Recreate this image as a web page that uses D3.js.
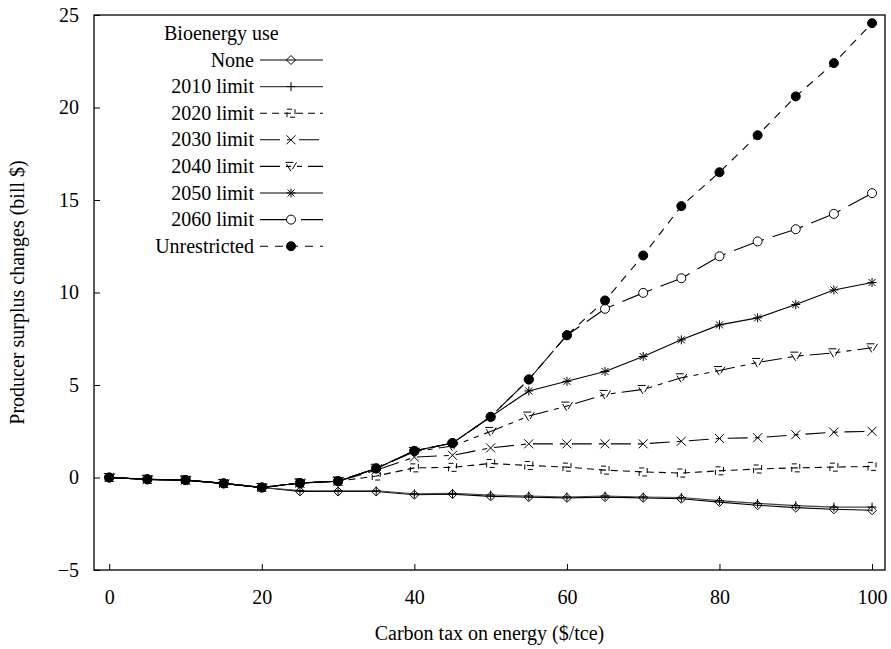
<!DOCTYPE html>
<html>
<head>
<meta charset="utf-8">
<script src="https://cdn.jsdelivr.net/npm/d3@7"></script>
<style>
  body { margin: 0; background: #fff; }
</style>
</head>
<body>
<script>
'use strict';

// carbon tax values ($/tce)
const taxes = [0, 5, 10, 15, 20, 25, 30, 35, 40, 45, 50, 55, 60, 65, 70, 75, 80, 85, 90, 95, 100]

// producer surplus changes (bill $) per bioenergy scenario
const none    = [0, -0.1, -0.14, -0.32, -0.54, -0.75, -0.76, -0.76, -0.93, -0.9, -1.02, -1.06, -1.1, -1.06, -1.1, -1.15, -1.33, -1.5, -1.63, -1.72, -1.77]
const lim2010 = [0, -0.1, -0.14, -0.32, -0.54, -0.7, -0.72, -0.72, -0.88, -0.86, -0.95, -1.0, -1.05, -1.0, -1.05, -1.08, -1.25, -1.4, -1.52, -1.6, -1.6]
const lim2020 = [0, -0.1, -0.14, -0.32, -0.54, -0.3, -0.2, 0.08, 0.52, 0.55, 0.76, 0.65, 0.56, 0.4, 0.3, 0.24, 0.36, 0.46, 0.52, 0.56, 0.6]
const lim2030 = [0, -0.1, -0.14, -0.32, -0.54, -0.3, -0.2, 0.4, 1.1, 1.2, 1.6, 1.82, 1.82, 1.82, 1.82, 1.96, 2.11, 2.15, 2.31, 2.45, 2.5]
const lim2040 = [0, -0.1, -0.14, -0.32, -0.54, -0.3, -0.2, 0.5, 1.4, 1.7, 2.49, 3.32, 3.86, 4.49, 4.76, 5.39, 5.78, 6.22, 6.56, 6.74, 7.01]
const lim2050 = [0, -0.1, -0.14, -0.32, -0.54, -0.3, -0.2, 0.49, 1.44, 1.86, 3.28, 4.68, 5.2, 5.73, 6.54, 7.44, 8.25, 8.63, 9.35, 10.14, 10.54]
const lim2060 = [0, -0.1, -0.14, -0.32, -0.54, -0.3, -0.2, 0.49, 1.44, 1.86, 3.28, 5.3, 7.69, 9.12, 9.98, 10.77, 11.96, 12.76, 13.42, 14.25, 15.37]
const unrestricted = [0, -0.1, -0.14, -0.32, -0.54, -0.3, -0.2, 0.49, 1.44, 1.86, 3.28, 5.3, 7.69, 9.57, 12.0, 14.67, 16.5, 18.5, 20.6, 22.4, 24.56]

const xTicks = [0, 20, 40, 60, 80, 100]
const yTicks = [-5, 0, 5, 10, 15, 20, 25]

const series = [
  { name: 'None', values: none, dash: null, mark: 'diamond' },
  { name: '2010 limit', values: lim2010, dash: null, mark: 'plus' },
  { name: '2020 limit', values: lim2020, dash: '7,5', mark: 'square' },
  { name: '2030 limit', values: lim2030, dash: '20,7,5,7', mark: 'cross' },
  { name: '2040 limit', values: lim2040, dash: '20,6,5,6,5,6', mark: 'triangle' },
  { name: '2050 limit', values: lim2050, dash: null, mark: 'star' },
  { name: '2060 limit', values: lim2060, dash: '32,9', mark: 'circle' },
  { name: 'Unrestricted', values: unrestricted, dash: '8,7', mark: 'dot' }
]

const m = { width: 891, height: 649, left: 94, right: 885, top: 15, bottom: 570 }
const font = '"Liberation Serif", "DejaVu Serif", serif'
const fontSize = '20px'

const svg = d3.select('body').append('svg')
  .attr('width', m.width)
  .attr('height', m.height)
  .style('font-family', font)

const x = d3.scaleLinear().domain([-2, 101.7]).range([m.left, m.right])
const y = d3.scaleLinear().domain([-5, 25]).range([m.bottom, m.top])

// frame
svg.append('rect')
  .attr('x', m.left).attr('y', m.top)
  .attr('width', m.right - m.left).attr('height', m.bottom - m.top)
  .attr('fill', 'none').attr('stroke', '#000').attr('stroke-width', 1.3)

// x axis: ticks point into the plot
const xAxis = svg.append('g')
  .attr('transform', 'translate(0,' + m.bottom + ')')
  .call(d3.axisBottom(x).tickValues(xTicks).tickSizeInner(-6).tickSizeOuter(0).tickPadding(20))
xAxis.select('.domain').remove()
xAxis.selectAll('text').style('font-size', fontSize).style('font-family', font).attr('fill', '#000')

const yAxis = svg.append('g')
  .attr('transform', 'translate(' + m.left + ',0)')
  .call(d3.axisLeft(y).tickValues(yTicks).tickSizeInner(-6).tickSizeOuter(0).tickPadding(15))
yAxis.select('.domain').remove()
yAxis.selectAll('text').style('font-size', fontSize).style('font-family', font).attr('fill', '#000')

// axis labels
svg.append('text')
  .attr('x', (m.left + m.right) / 2)
  .attr('y', 640)
  .attr('text-anchor', 'middle')
  .style('font-size', fontSize)
  .style('font-family', font)
  .text('Carbon tax on energy ($/tce)')

svg.append('text')
  .attr('transform', 'translate(24,' + (m.top + m.bottom) / 2 + ')rotate(-90)')
  .attr('text-anchor', 'middle')
  .style('font-size', fontSize)
  .style('font-family', font)
  .text('Producer surplus changes (bill $)')

// marker shapes, gnuplot style
function drawMark(g, type, cx, cy) {
  const s = 4.5
  if (type === 'diamond') {
    g.append('path').attr('d', `M${cx},${cy - s}L${cx + s},${cy}L${cx},${cy + s}L${cx - s},${cy}Z`)
      .attr('fill', 'none').attr('stroke', '#000')
  } else if (type === 'plus') {
    g.append('path').attr('d', `M${cx - s},${cy}H${cx + s}M${cx},${cy - s}V${cy + s}`)
      .attr('stroke', '#000')
  } else if (type === 'square') {
    g.append('rect').attr('x', cx - 4).attr('y', cy - 4).attr('width', 8).attr('height', 8)
      .attr('fill', 'none').attr('stroke', '#000').attr('stroke-dasharray', '5,3')
  } else if (type === 'cross') {
    g.append('path').attr('d', `M${cx - s},${cy - s}L${cx + s},${cy + s}M${cx - s},${cy + s}L${cx + s},${cy - s}`)
      .attr('stroke', '#000')
  } else if (type === 'triangle') {
    g.append('path').attr('d', `M${cx - 5.5},${cy - 4}H${cx + 5.5}L${cx},${cy + 5}Z`)
      .attr('fill', 'none').attr('stroke', '#000').attr('stroke-dasharray', '8,3')
  } else if (type === 'star') {
    g.append('path').attr('d', `M${cx - s},${cy}H${cx + s}M${cx},${cy - s}V${cy + s}` +
        `M${cx - 3.5},${cy - 3.5}L${cx + 3.5},${cy + 3.5}M${cx - 3.5},${cy + 3.5}L${cx + 3.5},${cy - 3.5}`)
      .attr('stroke', '#000')
  } else if (type === 'circle') {
    g.append('circle').attr('cx', cx).attr('cy', cy).attr('r', 4.5)
      .attr('fill', '#fff').attr('stroke', '#000')
  } else if (type === 'dot') {
    g.append('circle').attr('cx', cx).attr('cy', cy).attr('r', 4.5)
      .attr('fill', '#000').attr('stroke', '#000')
  }
}

const line = d3.line()
  .x((d, i) => x(taxes[i]))
  .y((d) => y(d))

const plot = svg.append('g')

series.forEach((s) => {
  plot.append('path')
    .datum(s.values)
    .attr('d', line)
    .attr('fill', 'none')
    .attr('stroke', s.name === '2010 limit' ? '#444' : '#000')
    .attr('stroke-width', 1.1)
    .attr('stroke-dasharray', s.dash)
  const mg = plot.append('g').attr('stroke-width', 1)
  s.values.forEach((v, i) => drawMark(mg, s.mark, x(taxes[i]), y(v)))
})

// legend
const legend = svg.append('g')
legend.append('text')
  .attr('x', 164).attr('y', 40)
  .style('font-size', fontSize)
  .style('font-family', font)
  .text('Bioenergy use')

series.forEach((s, i) => {
  const ly = 60 + i * 26.6
  legend.append('text')
    .attr('x', 254).attr('y', ly + 6.5)
    .attr('text-anchor', 'end')
    .style('font-size', fontSize)
    .style('font-family', font)
    .text(s.name)
  legend.append('line')
    .attr('x1', 260).attr('x2', 323).attr('y1', ly).attr('y2', ly)
    .attr('stroke', s.name === '2010 limit' ? '#444' : '#000')
    .attr('stroke-width', 1.1)
    .attr('stroke-dasharray', s.dash)
  const mg = legend.append('g').attr('stroke-width', 1)
  drawMark(mg, s.mark, 291, ly)
})
</script>
</body>
</html>
